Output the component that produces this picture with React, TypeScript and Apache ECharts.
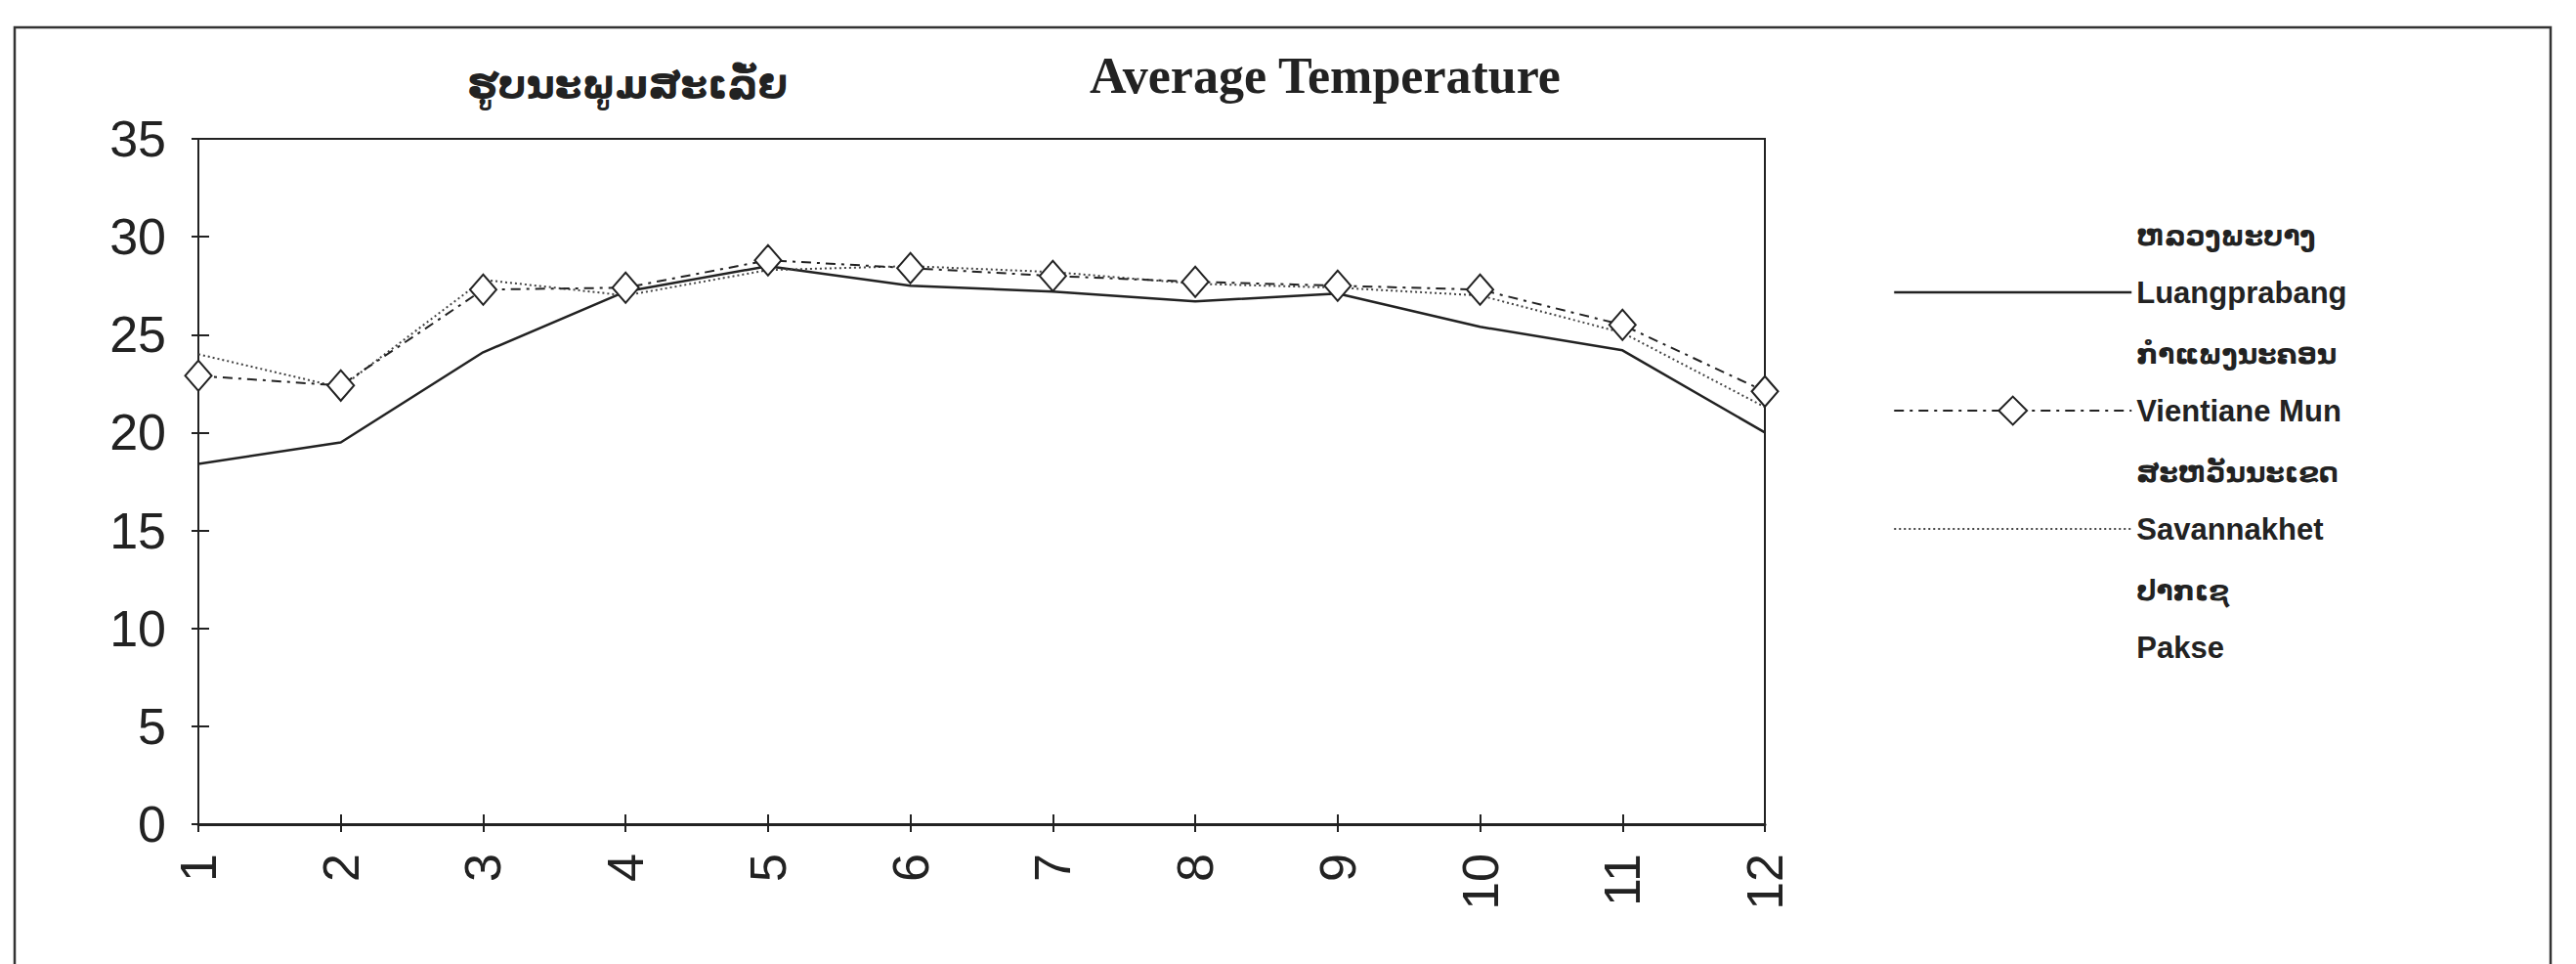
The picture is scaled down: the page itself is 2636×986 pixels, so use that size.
import React, { useEffect, useRef } from "react";
import * as echarts from "echarts";

// ---- data ----
const months = ["1", "2", "3", "4", "5", "6", "7", "8", "9", "10", "11", "12"];
const luangprabang = [18.4, 19.5, 24.1, 27.2, 28.5, 27.5, 27.2, 26.7, 27.1, 25.4, 24.2, 20.0];
const vientianeMun = [22.9, 22.4, 27.3, 27.4, 28.8, 28.4, 28.0, 27.7, 27.5, 27.3, 25.5, 22.1];
const savannakhet = [24.0, 22.3, 27.8, 27.0, 28.3, 28.5, 28.2, 27.6, 27.4, 27.0, 25.1, 21.3];
const pakse: number[] = [];
const latinNames = ["Luangprabang", "Vientiane Mun", "Savannakhet", "Pakse"];
const laoNames = ["ຫລວງພະບາງ", "ກຳແພງນະຄອນ", "ສະຫວັນນະເຂດ", "ປາກເຊ"];
const yMin = 0;
const yMax = 35;
const yInterval = 5;
const titleLao = "ຮູບນະພູມສະເລັ່ຍ";
const titleEn = "Average Temperature";

const INK = "#222";
const SANS = "'Liberation Sans', Arial, sans-serif";
const LAO = "'DejaVu Sans', sans-serif";

export default function App() {
  const ref = useRef<HTMLDivElement>(null);

  useEffect(() => {
    if (!ref.current) return;
    const chart = echarts.init(ref.current, undefined, { renderer: "svg" });

    const dashDot = [10, 6, 3, 6];
    const dotted = [2, 3];

    const option: any = {
      animation: false,
      backgroundColor: "#fff",
      grid: {
        left: 203,
        right: 830,
        top: 142,
        bottom: 143,
        show: true,
        borderColor: INK,
        borderWidth: 2,
        backgroundColor: "transparent",
      },
      graphic: [
        {
          type: "rect",
          shape: { x: 15, y: 28, width: 2595, height: 1000 },
          style: { fill: "none", stroke: "#333", lineWidth: 2.5 },
          silent: true,
        },
        {
          type: "text",
          x: 642,
          y: 86,
          style: {
            text: titleLao,
            fontFamily: LAO,
            fontWeight: "bold",
            fontSize: 40,
            fill: INK,
            align: "center",
            verticalAlign: "middle",
            textAlign: "center",
            textVerticalAlign: "middle",
          },
        },
        {
          type: "text",
          x: 1356,
          y: 77,
          style: {
            text: titleEn,
            fontFamily: "'Liberation Serif', 'Times New Roman', serif",
            fontWeight: "bold",
            fontSize: 52,
            fill: INK,
            align: "center",
            verticalAlign: "middle",
            textAlign: "center",
            textVerticalAlign: "middle",
          },
        },
      ],
      legend: {
        orient: "vertical",
        left: 1937,
        top: 227,
        padding: 0,
        itemWidth: 243,
        itemHeight: 36,
        itemGap: -14,
        selectedMode: false,
        data: [
          { name: latinNames[0], itemStyle: { opacity: 0 }, lineStyle: { color: INK, width: 2.5, type: "solid" } },
          {
            name: latinNames[1],
            itemStyle: { color: "#fff", borderColor: INK, borderWidth: 2, opacity: 1 },
            lineStyle: { color: INK, width: 2, type: dashDot },
          },
          { name: latinNames[2], itemStyle: { opacity: 0 }, lineStyle: { color: "#444", width: 2, type: dotted } },
          { name: latinNames[3], itemStyle: { opacity: 0 }, lineStyle: { opacity: 0, width: 0 } },
        ],
        formatter: (name: string) => {
          const i = latinNames.indexOf(name);
          return `{lao|${laoNames[i]}}\n{lat|${name}}\n{sp| }`;
        },
        textStyle: {
          color: INK,
          rich: {
            lao: { fontFamily: LAO, fontSize: 28, fontWeight: "bold", lineHeight: 46, color: INK },
            lat: { fontFamily: SANS, fontSize: 31, fontWeight: "bold", lineHeight: 70, color: INK },
            sp: { fontSize: 10, lineHeight: 46 },
          },
        },
      },
      xAxis: [
        {
          type: "category",
          data: months,
          boundaryGap: false,
          axisLine: { show: true, lineStyle: { color: INK, width: 3 } },
          axisTick: { show: true, interval: 0, length: 8, lineStyle: { color: INK, width: 2 } },
          axisLabel: {
            interval: 0,
            rotate: 90,
            margin: 30,
            fontSize: 52,
            fontFamily: SANS,
            color: INK,
          },
          splitLine: { show: false },
        },
        {
          type: "category",
          data: months,
          boundaryGap: false,
          position: "bottom",
          axisLine: { show: false },
          axisTick: { show: true, inside: true, interval: 0, length: 10, lineStyle: { color: INK, width: 2 } },
          axisLabel: { show: false },
          splitLine: { show: false },
        },
      ],
      yAxis: [
        {
          type: "value",
          min: yMin,
          max: yMax,
          interval: yInterval,
          axisLine: { show: true, lineStyle: { color: INK, width: 2 } },
          axisTick: { show: true, length: 7, lineStyle: { color: INK, width: 2 } },
          axisLabel: { margin: 33, fontSize: 52, fontFamily: SANS, color: INK },
          splitLine: { show: false },
        },
        {
          type: "value",
          min: yMin,
          max: yMax,
          interval: yInterval,
          position: "left",
          axisLine: { show: false },
          axisTick: { show: true, inside: true, length: 11, lineStyle: { color: INK, width: 2 } },
          axisLabel: { show: false },
          splitLine: { show: false },
        },
      ],
      series: [
        {
          name: latinNames[0],
          type: "line",
          data: luangprabang,
          symbol: "none",
          color: INK,
          lineStyle: { color: INK, width: 2.5, type: "solid" },
          z: 3,
        },
        {
          name: latinNames[1],
          type: "line",
          data: vientianeMun,
          symbol: "diamond",
          symbolSize: [27, 31],
          color: INK,
          lineStyle: { color: INK, width: 2, type: dashDot },
          itemStyle: { color: "#fff", borderColor: INK, borderWidth: 2 },
          z: 5,
        },
        {
          name: latinNames[2],
          type: "line",
          data: savannakhet,
          symbol: "none",
          color: "#444",
          lineStyle: { color: "#444", width: 2, type: dotted },
          z: 4,
        },
        {
          name: latinNames[3],
          type: "line",
          data: pakse,
          symbol: "none",
          lineStyle: { opacity: 0, width: 0 },
        },
      ],
    };

    chart.setOption(option);
    return () => chart.dispose();
  }, []);

  return (
    <div
      ref={ref}
      style={{ position: "absolute", left: 0, top: 0, width: 2636, height: 986, background: "#fff" }}
    />
  );
}
